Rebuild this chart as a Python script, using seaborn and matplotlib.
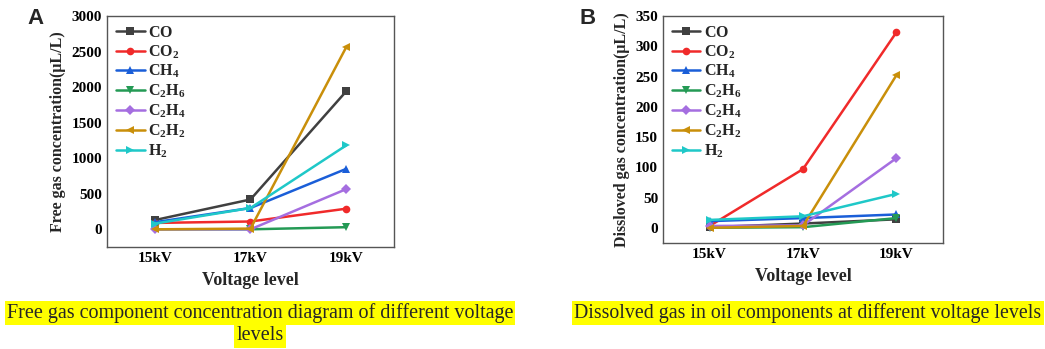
import numpy as np
import pandas as pd
import matplotlib
matplotlib.use("Agg")
import matplotlib.pyplot as plt
import seaborn as sns
from matplotlib.ticker import MultipleLocator

# data
voltages = [15, 17, 19]
volt_labels = ["15kV", "17kV", "19kV"]
gases = ["CO", "CO2", "CH4", "C2H6", "C2H4", "C2H2", "H2"]
gas_labels = [r"$\mathbf{CO}$", r"$\mathbf{CO_2}$", r"$\mathbf{CH_4}$", r"$\mathbf{C_2H_6}$",
              r"$\mathbf{C_2H_4}$", r"$\mathbf{C_2H_2}$", r"$\mathbf{H_2}$"]

free_co = [130, 420, 1940]
free_co2 = [90, 110, 290]
free_ch4 = [100, 300, 850]
free_c2h6 = [0, 0, 30]
free_c2h4 = [0, 0, 565]
free_c2h2 = [0, 10, 2560]
free_h2 = [80, 300, 1180]

diss_co = [1, 7, 14]
diss_co2 = [3, 97, 323]
diss_ch4 = [11, 16, 22]
diss_c2h6 = [0, 1, 16]
diss_c2h4 = [3, 4, 115]
diss_c2h2 = [0, 3, 252]
diss_h2 = [13, 19, 56]

colors = ["#404040", "#f02a2a", "#1a5ed8", "#249a55", "#a56ee0", "#c98f0a", "#1fc8c8"]
markers = ["s", "o", "^", "v", "D", "<", ">"]


def long_df(series):
    rows = []
    for lab, vals in zip(gas_labels, series):
        for v, y in zip(voltages, vals):
            rows.append(dict(gas=lab, voltage=v, conc=y))
    return pd.DataFrame(rows)


df_free = long_df([free_co, free_co2, free_ch4, free_c2h6, free_c2h4, free_c2h2, free_h2])
df_diss = long_df([diss_co, diss_co2, diss_ch4, diss_c2h6, diss_c2h4, diss_c2h2, diss_h2])

sns.set_style("white")
plt.rcParams['font.family'] = ['Liberation Serif', 'DejaVu Serif']
plt.rcParams['font.weight'] = 'bold'
plt.rcParams['mathtext.fontset'] = 'custom'
plt.rcParams['mathtext.rm'] = 'Liberation Serif:bold'
plt.rcParams['mathtext.bf'] = 'Liberation Serif:bold'
plt.rcParams['mathtext.it'] = 'Liberation Serif:bold'

fig = plt.figure(figsize=(10.45, 3.49), dpi=100)
axA = fig.add_axes([0.1024, 0.292, 0.2746, 0.662])
axB = fig.add_axes([0.6344, 0.304, 0.268, 0.650])

palette = dict(zip(gas_labels, colors))
mk = dict(zip(gas_labels, markers))


def draw(ax, df, ylim, ymaj, ymin, ylabel, letter, lx):
    sns.lineplot(data=df, x="voltage", y="conc", hue="gas", style="gas",
                 palette=palette, markers=mk, dashes=False, linewidth=1.8,
                 markersize=5.5, markeredgewidth=0, hue_order=gas_labels,
                 style_order=gas_labels, ax=ax)
    ax.set_xlim(14, 20)
    ax.set_ylim(*ylim)
    ax.set_xticks(voltages)
    ax.set_xticklabels(volt_labels)
    ax.xaxis.set_minor_locator(MultipleLocator(1))
    ax.yaxis.set_major_locator(MultipleLocator(ymaj))
    ax.yaxis.set_minor_locator(MultipleLocator(ymin))
    ax.tick_params(which="both", direction="in", labelsize=11, width=0.8, colors="#333333",
                   labelcolor="black")
    ax.tick_params(which="major", length=4)
    ax.tick_params(which="minor", length=2)
    for lbl in ax.get_xticklabels() + ax.get_yticklabels():
        lbl.set_fontweight("bold")
    ax.set_xlabel("Voltage level", fontsize=13, fontweight="bold", labelpad=5)
    ax.set_ylabel(ylabel, fontsize=11.5, fontweight="bold", labelpad=4)
    for s in ax.spines.values():
        s.set_color("#555555")
        s.set_linewidth(1.0)
    ax.legend(loc="upper left", frameon=False, fontsize=11.5, handlelength=1.8,
              handletextpad=0.2, labelspacing=0.15, borderaxespad=0.15)
    ax.text(lx, 0.99, letter, transform=ax.transAxes, fontsize=16, fontweight="bold",
            family="Liberation Sans", va="center", ha="center")


draw(axA, df_free, (-250, 3000), 500, 250, "Free gas concentration(μL/L)", "A", -0.25)
draw(axB, df_diss, (-25, 350), 50, 25, "Dissloved gas concentration(μL/L)", "B", -0.27)

hl = dict(facecolor="#ffff00", edgecolor="none", pad=1.5)
fig.text(260 / 1045, 1 - 313 / 349, "Free gas component concentration diagram of different voltage",
         ha="center", va="center", fontsize=14.5, fontweight="normal", bbox=hl)
fig.text(260 / 1045, 1 - 336 / 349, "levels", ha="center", va="center", fontsize=14.5,
         fontweight="normal", bbox=hl)
fig.text(808 / 1045, 1 - 313 / 349, "Dissolved gas in oil components at different voltage levels",
         ha="center", va="center", fontsize=14.3, fontweight="normal", bbox=hl)

fig.savefig("out.png", dpi=100)
